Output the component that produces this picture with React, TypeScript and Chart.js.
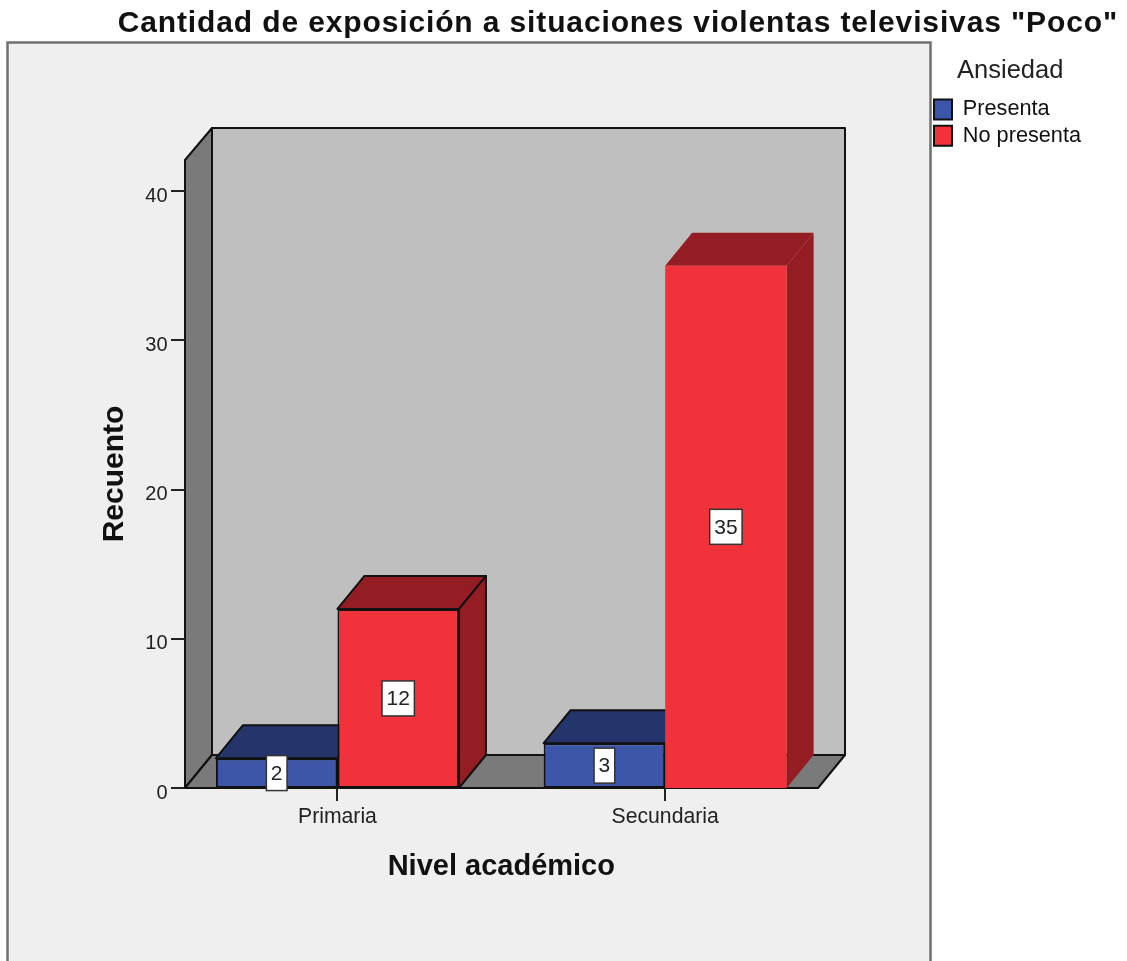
import React, { useEffect, useRef } from "react";
import { Chart, registerables } from "chart.js";

Chart.register(...registerables);

const TITLE = 'Cantidad de exposición a situaciones violentas televisivas "Poco"';
const LEVELS = ["Primaria", "Secundaria"];
const PRESENTA = [2, 3];
const NO_PRESENTA = [12, 35];
const Y_TICK_STEP = 10;
const Y_MAX = 42.08;
const OUTLINED_PRESENTA = [2, 2];
const OUTLINED_NO_PRESENTA = [2, 0];

const FONT = '"Liberation Sans", Arial, sans-serif';
const DX = 27;
const DY = 33;
const INK = "#111111";
const PAD_RIGHT = 36;
const COLORS = [
  { front: "#3D56A9", dark: "#24356C" },
  { front: "#F2323A", dark: "#941D23" },
];

function poly(ctx: CanvasRenderingContext2D, pts: number[][], fill: string, stroke?: string) {
  ctx.beginPath();
  pts.forEach((p, i) => (i ? ctx.lineTo(p[0], p[1]) : ctx.moveTo(p[0], p[1])));
  ctx.closePath();
  ctx.fillStyle = fill;
  ctx.fill();
  if (stroke) {
    ctx.strokeStyle = stroke;
    ctx.lineWidth = 2;
    ctx.lineJoin = "round";
    ctx.stroke();
  }
}

const scene3d = {
  id: "scene3d",
  afterLayout(chart: any) {
    const tb = chart.titleBlock;
    tb.right = 1118;
    if (!tb._spaced) {
      const draw = tb.draw.bind(tb);
      tb.draw = () => {
        chart.ctx.letterSpacing = "0.87px";
        draw();
        chart.ctx.letterSpacing = "0px";
      };
      tb._spaced = true;
    }
  },
  beforeDraw(chart: any) {
    const ctx = chart.ctx;
    ctx.save();
    ctx.fillStyle = "#FFFFFF";
    ctx.fillRect(0, 0, chart.width, chart.height);
    ctx.fillStyle = "#EFEFEF";
    ctx.strokeStyle = "#707070";
    ctx.lineWidth = 2.5;
    ctx.fillRect(7.5, 42.5, 923, 930);
    ctx.strokeRect(7.5, 42.5, 923, 930);
    ctx.restore();
  },
  beforeDatasetsDraw(chart: any) {
    const ctx = chart.ctx;
    const { x, y } = chart.scales;
    const L = x.left + 11.4;
    const R = x.right - 11;
    const B = y.bottom;
    const T = y.top;
    ctx.save();
    poly(ctx, [[L + DX, T - DY + 1], [R + DX, T - DY + 1], [R + DX, B - DY], [L + DX, B - DY]], "#BFBFBF", INK);
    poly(ctx, [[L, T], [L + DX, T - DY + 1], [L + DX, B - DY], [L, B]], "#7A7A7A", INK);
    poly(ctx, [[L, B], [L + DX, B - DY], [R + DX, B - DY], [R, B]], "#7A7A7A", INK);

    chart.data.datasets.forEach((ds: any, d: number) => {
      const meta = chart.getDatasetMeta(d);
      meta.data.forEach((bar: any, i: number) => {
        const p = bar.getProps(["x", "y", "base", "width"], true);
        const l = p.x - p.width / 2;
        const r = p.x + p.width / 2;
        const outline = ds.borderWidth[i] > 0 ? INK : undefined;
        const dark = COLORS[d].dark;
        poly(ctx, [[r, p.y], [r + DX, p.y - DY], [r + DX, p.base - DY], [r, p.base]], dark, outline);
        poly(ctx, [[l, p.y], [l + DX, p.y - DY], [r + DX, p.y - DY], [r, p.y]], dark, outline);
      });
    });
    ctx.restore();
  },
  afterDatasetsDraw(chart: any) {
    const ctx = chart.ctx;
    const { x, y } = chart.scales;
    const L = x.left + 11.4;
    ctx.save();
    ctx.strokeStyle = "#222222";
    ctx.lineWidth = 2;
    ctx.beginPath();
    y.ticks.forEach((_: any, i: number) => {
      const py = Math.round(y.getPixelForTick(i));
      ctx.moveTo(L - 14, py);
      ctx.lineTo(L, py);
    });
    x.ticks.forEach((_: any, i: number) => {
      const px = Math.round(x.getPixelForTick(i));
      ctx.moveTo(px, y.bottom);
      ctx.lineTo(px, y.bottom + 13);
    });
    ctx.stroke();

    ctx.font = `21px ${FONT}`;
    ctx.textAlign = "center";
    ctx.textBaseline = "middle";
    chart.data.datasets.forEach((ds: any, d: number) => {
      chart.getDatasetMeta(d).data.forEach((bar: any, i: number) => {
        const p = bar.getProps(["x", "y", "base"], true);
        const cy = (p.y + p.base) / 2;
        const label = String(ds.data[i]);
        const w = ctx.measureText(label).width + 9;
        const h = 35;
        ctx.fillStyle = "#FFFFFF";
        ctx.strokeStyle = "#333333";
        ctx.lineWidth = 1.5;
        ctx.fillRect(p.x - w / 2, cy - h / 2, w, h);
        ctx.strokeRect(p.x - w / 2, cy - h / 2, w, h);
        ctx.fillStyle = "#222222";
        ctx.fillText(label, p.x, cy + 1);
      });
    });
    ctx.restore();
  },
};

export default function App() {
  const ref = useRef<HTMLCanvasElement>(null);
  useEffect(() => {
    document.body.style.margin = "0";
    const chart = new Chart(ref.current as HTMLCanvasElement, {
      type: "bar",
      data: {
        labels: LEVELS,
        datasets: [
          {
            label: "Presenta",
            data: PRESENTA,
            backgroundColor: COLORS[0].front,
            borderColor: INK,
            borderWidth: OUTLINED_PRESENTA,
            borderSkipped: false,
            barPercentage: 1,
            categoryPercentage: 0.7415,
          },
          {
            label: "No presenta",
            data: NO_PRESENTA,
            backgroundColor: COLORS[1].front,
            borderColor: INK,
            borderWidth: OUTLINED_NO_PRESENTA,
            borderSkipped: false,
            barPercentage: 1,
            categoryPercentage: 0.7415,
          },
        ],
      },
      options: {
        responsive: false,
        animation: false,
        events: [],
        layout: { padding: { left: 0, top: 0, bottom: 0, right: PAD_RIGHT } },
        plugins: {
          title: {
            display: true,
            text: TITLE,
            align: "end",
            color: "#111111",
            font: { family: FONT, size: 30, weight: "bold" },
            padding: { top: 6, bottom: 118 },
          },
          legend: {
            display: true,
            position: "right",
            align: "start",
            title: {
              display: true,
              text: "Ansiedad",
              color: "#222222",
              font: { family: FONT, size: 25.5 },
              padding: { top: 58, bottom: 5.5 },
            },
            labels: {
              color: "#111111",
              font: { family: FONT, size: 21.7 },
              boxWidth: 18,
              boxHeight: 20,
              padding: 4.5,
            },
          },
          tooltip: { enabled: false },
        },
        scales: {
          x: {
            grid: { display: false },
            border: { display: false },
            ticks: { color: "#222222", font: { family: FONT, size: 21.2 }, padding: 8, maxRotation: 0 },
            title: {
              display: true,
              text: "Nivel académico",
              color: "#111111",
              font: { family: FONT, size: 29, weight: "bold" },
              padding: { top: 0, bottom: 77 },
            },
            afterFit: (s: any) => {
              s.height = 173;
            },
          },
          y: {
            min: 0,
            max: Y_MAX,
            grid: { display: false },
            border: { display: false },
            ticks: {
              stepSize: Y_TICK_STEP,
              includeBounds: false,
              color: "#222222",
              font: { family: FONT, size: 20 },
              padding: -2,
              labelOffset: 5,
            },
            title: {
              display: true,
              text: "Recuento",
              color: "#111111",
              font: { family: FONT, size: 30, weight: "bold" },
              padding: { top: 97, bottom: 0 },
            },
            afterFit: (s: any) => {
              s.width = 173.6;
            },
          },
          gutter: {
            axis: "y",
            position: "right",
            grid: { display: false },
            border: { display: false },
            ticks: { display: false },
            afterFit: (s: any) => {
              s.width = 1127 - PAD_RIGHT - s.chart.legend.width - 829;
            },
          },
        },
      } as any,
      plugins: [scene3d],
    });
    return () => chart.destroy();
  }, []);
  return (
    <div style={{ position: "absolute", left: 0, top: 0, width: 1127, height: 961 }}>
      <canvas ref={ref} width={1127} height={961} style={{ display: "block" }} />
    </div>
  );
}
